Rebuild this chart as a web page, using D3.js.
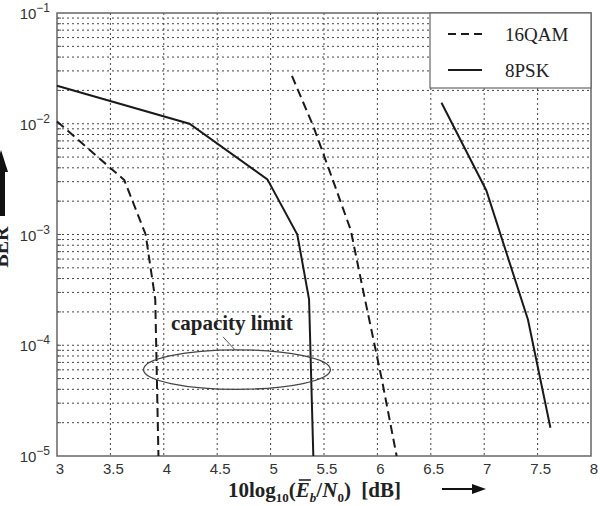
<!DOCTYPE html>
<html>
<head>
<meta charset="utf-8">
<script src="https://cdn.jsdelivr.net/npm/d3@7"></script>
<style>
  html, body { margin: 0; padding: 0; background: #fff; }
  svg { display: block; }
</style>
</head>
<body>
<svg></svg>
<script>
// Tick values and labels
const xTickValues = [3, 3.5, 4, 4.5, 5, 5.5, 6, 6.5, 7, 7.5, 8];
const xTickLabels = ['3', '3.5', '4', '4.5', '5', '5.5', '6', '6.5', '7', '7.5', '8'];
const yTickExponents = [-1, -2, -3, -4, -5];

// 16QAM (dashed) - left curve near capacity and right curve
const qamLeftEbN0 = [3.0, 3.63, 3.83, 3.92, 3.95];
const qamLeftBer  = [1.05e-2, 3.1e-3, 1.0e-3, 2.6e-4, 1e-5];
const qamRightEbN0 = [5.20, 5.40, 5.55, 5.75, 5.87, 6.04, 6.18];
const qamRightBer  = [2.7e-2, 9.5e-3, 3.8e-3, 1.1e-3, 3.0e-4, 5e-5, 1e-5];

// 8PSK (solid) - left curve near capacity and right curve
const pskLeftEbN0 = [3.0, 4.24, 4.97, 5.25, 5.36, 5.40];
const pskLeftBer  = [2.2e-2, 1.0e-2, 3.15e-3, 1.0e-3, 2.6e-4, 1e-5];
const pskRightEbN0 = [6.60, 7.02, 7.41, 7.62];
const pskRightBer  = [1.55e-2, 2.5e-3, 1.7e-4, 1.8e-5];

// capacity limit ellipse bounds (in data units)
const ellipseEbN0 = [3.81, 5.56];
const ellipseBer = [4e-5, 9.1e-5];

const legendNames = ['16QAM', '8PSK'];

const width = 600, height = 506;
const svg = d3.select('svg')
    .attr('width', width)
    .attr('height', height);

const x = d3.scaleLinear().domain([3, 8]).range([57, 591]);
const y = d3.scaleLog().domain([1e-5, 1e-1]).range([456, 13]);

const serif = '"Liberation Serif", "DejaVu Serif", serif';
const sans = '"Liberation Sans", Arial, sans-serif';

// grid
const minorVals = [];
for (let e = -5; e <= -2; e++) {
    for (let k = 1; k <= 9; k++) {
        const v = k * Math.pow(10, e);
        if (v > 1e-5 && v < 1e-1) minorVals.push(v);
    }
}
const grid = svg.append('g');
grid.selectAll('line.h')
    .data(minorVals)
    .enter().append('line')
    .attr('x1', x(3)).attr('x2', x(8))
    .attr('y1', d => y(d)).attr('y2', d => y(d))
    .attr('stroke', '#444')
    .attr('stroke-width', 1)
    .attr('stroke-dasharray', '2,3');
grid.selectAll('line.v')
    .data(xTickValues.slice(1, -1))
    .enter().append('line')
    .attr('x1', d => x(d)).attr('x2', d => x(d))
    .attr('y1', y(1e-1)).attr('y2', y(1e-5))
    .attr('stroke', '#444')
    .attr('stroke-width', 1)
    .attr('stroke-dasharray', '2,3');

// small ticks on the left axis
grid.selectAll('line.t')
    .data(minorVals)
    .enter().append('line')
    .attr('x1', x(3)).attr('x2', x(3) + 4)
    .attr('y1', d => y(d)).attr('y2', d => y(d))
    .attr('stroke', '#555');

// border
svg.append('rect')
    .attr('x', x(3)).attr('y', y(1e-1))
    .attr('width', x(8) - x(3)).attr('height', y(1e-5) - y(1e-1))
    .attr('fill', 'none')
    .attr('stroke', '#666')
    .attr('stroke-width', 1.5);

// curves
const line = d3.line().x(d => x(d[0])).y(d => y(d[1]));
const curves = [
    {xs: qamLeftEbN0, ys: qamLeftBer, dash: '9,5'},
    {xs: qamRightEbN0, ys: qamRightBer, dash: '9,5'},
    {xs: pskLeftEbN0, ys: pskLeftBer, dash: null},
    {xs: pskRightEbN0, ys: pskRightBer, dash: null}
];
svg.append('g').selectAll('path')
    .data(curves)
    .enter().append('path')
    .attr('d', d => line(d.xs.map((v, i) => [v, d.ys[i]])))
    .attr('fill', 'none')
    .attr('stroke', '#1a1a1a')
    .attr('stroke-width', 2)
    .attr('stroke-dasharray', d => d.dash);

// capacity limit ellipse and label
const ecx = (x(ellipseEbN0[0]) + x(ellipseEbN0[1])) / 2;
const ecy = (y(ellipseBer[0]) + y(ellipseBer[1])) / 2;
svg.append('ellipse')
    .attr('cx', ecx).attr('cy', ecy)
    .attr('rx', (x(ellipseEbN0[1]) - x(ellipseEbN0[0])) / 2)
    .attr('ry', (y(ellipseBer[0]) - y(ellipseBer[1])) / 2)
    .attr('fill', 'none')
    .attr('stroke', '#444')
    .attr('stroke-width', 1.3);
svg.append('line')
    .attr('x1', ecx - 14).attr('y1', y(ellipseBer[1]) - 13)
    .attr('x2', ecx - 2).attr('y2', y(ellipseBer[1]))
    .attr('stroke', '#555').attr('stroke-width', 1);
svg.append('text')
    .attr('x', ecx - 66).attr('y', y(ellipseBer[1]) - 20)
    .attr('font-family', serif)
    .attr('font-size', 21)
    .attr('font-weight', 'bold')
    .attr('fill', '#222')
    .text('capacity limit');

// x tick labels
svg.append('g').selectAll('text')
    .data(xTickValues)
    .enter().append('text')
    .attr('x', d => x(d) + 3)
    .attr('y', 474)
    .attr('text-anchor', 'middle')
    .attr('font-family', sans)
    .attr('font-size', 15)
    .attr('fill', '#333')
    .text((d, i) => xTickLabels[i]);

// y tick labels
const yl = svg.append('g').selectAll('text')
    .data(yTickExponents)
    .enter().append('text')
    .attr('x', 50)
    .attr('y', d => y(Math.pow(10, d)) + 6)
    .attr('text-anchor', 'end')
    .attr('font-family', sans)
    .attr('font-size', 15)
    .attr('fill', '#333');
yl.append('tspan').text('10');
yl.append('tspan').attr('dy', -7).attr('font-size', 12).text(d => '\u2212' + (-d));

// x axis title
const xt = svg.append('text')
    .attr('x', 228).attr('y', 497)
    .attr('font-family', serif)
    .attr('font-size', 21)
    .attr('font-weight', 'bold')
    .attr('fill', '#222')
    .attr('xml:space', 'preserve');
xt.append('tspan').text('10log');
xt.append('tspan').attr('dy', 5).attr('font-size', 13).text('10');
xt.append('tspan').attr('dy', -5).text('(');
xt.append('tspan').attr('font-style', 'italic').text('E');
xt.append('tspan').attr('dy', 5).attr('font-size', 13).attr('font-style', 'italic').text('b');
xt.append('tspan').attr('dy', -5).text('/');
xt.append('tspan').attr('font-style', 'italic').text('N');
xt.append('tspan').attr('dy', 5).attr('font-size', 13).text('0');
xt.append('tspan').attr('dy', -5).text(')  [dB]');

// overline on E
const eBox = xt.node().getExtentOfChar(8);
svg.append('line')
    .attr('x1', eBox.x + 3).attr('x2', eBox.x + eBox.width + 1)
    .attr('y1', eBox.y + 2).attr('y2', eBox.y + 2)
    .attr('stroke', '#222').attr('stroke-width', 1.6);

svg.append('line')
    .attr('x1', 442).attr('x2', 474).attr('y1', 489).attr('y2', 489)
    .attr('stroke', '#111').attr('stroke-width', 2);
svg.append('path')
    .attr('d', 'M472,484L486,489L472,494Z')
    .attr('fill', '#111');

// y axis title (cut at page edge)
svg.append('text')
    .attr('transform', 'translate(8,247) rotate(-90)')
    .attr('text-anchor', 'middle')
    .attr('font-family', serif)
    .attr('font-size', 20)
    .attr('font-weight', 'bold')
    .attr('fill', '#222')
    .text('BER');
svg.append('rect')
    .attr('x', -1).attr('y', 170).attr('width', 6).attr('height', 46)
    .attr('fill', '#111');
svg.append('path')
    .attr('d', 'M-6,172L8,172L1,150Z')
    .attr('fill', '#111');

// legend
const legend = svg.append('g');
legend.append('rect')
    .attr('x', 430).attr('y', y(1e-1))
    .attr('width', x(8) - 430).attr('height', 75)
    .attr('fill', '#fff')
    .attr('stroke', '#666')
    .attr('stroke-width', 1.2);
legendNames.forEach((name, i) => {
    const ly = 34 + i * 36;
    legend.append('line')
        .attr('x1', 448).attr('x2', 482)
        .attr('y1', ly).attr('y2', ly)
        .attr('stroke', '#1a1a1a')
        .attr('stroke-width', 2)
        .attr('stroke-dasharray', i === 0 ? '8,5' : null);
    legend.append('text')
        .attr('x', 505).attr('y', ly + 7)
        .attr('font-family', serif)
        .attr('font-size', 19)
        .attr('fill', '#222')
        .text(name);
});
</script>
</body>
</html>
